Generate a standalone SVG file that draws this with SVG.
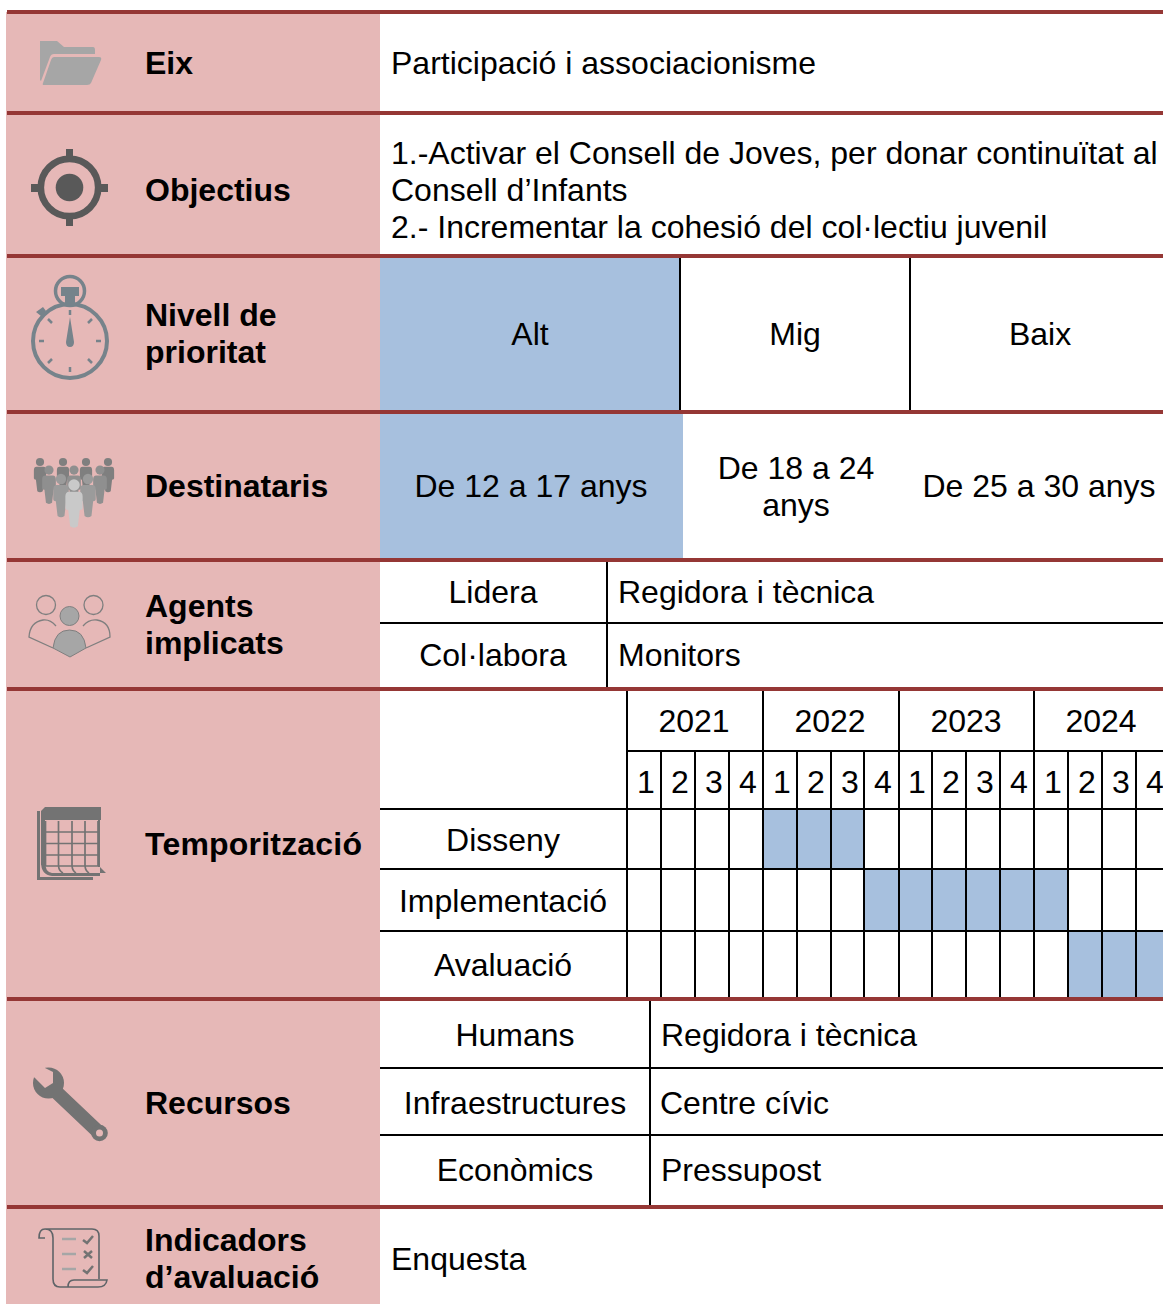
<svg xmlns="http://www.w3.org/2000/svg" width="1163" height="1304" viewBox="0 0 1163 1304">
<defs>
<style>
text{font-family:"Liberation Sans",Arial,sans-serif;font-size:32px;fill:#000}
.b{font-weight:700}
.m{text-anchor:middle}
.g{stroke:#000;stroke-width:2;fill:none}
.r{fill:#953735}
.blue{fill:#A7C0DE}
.tk{stroke:#76838B;stroke-width:2.5;fill:none}
.sc{stroke:#5F6468;stroke-width:1.6;fill:none}
</style>
<g id="person"><circle cx="0" cy="-17" r="6"/><path d="M-5-10H5Q9-10 9-5V7Q9 9 6 9L4 26Q0 29-4 26L-6 9Q-9 9-9 7V-5Q-9-10-5-10Z"/></g>
</defs>
<rect width="1163" height="1304" fill="#fff"/>
<rect x="6" y="12" width="374" height="1292" fill="#E6B8B7"/>
<g id="fills">
<rect class="blue" x="380" y="258" width="300" height="153"/>
<rect class="blue" x="380" y="414" width="303" height="145"/>
<rect class="blue" x="763" y="810" width="101" height="60"/>
<rect class="blue" x="864" y="869" width="204" height="63"/>
<rect class="blue" x="1068" y="932" width="95" height="66"/>
</g>
<g id="connectors">
<path class="g" d="M680 258V411M910 258V411M380 623H1163M607 562V688M627 690V998M627 751H1163M380 809H1163M380 869H1163M380 931H1163M763 690V998M899 690V998M1034 690V998"/>
<path class="g" d="M661 751V998M695 751V998M729 751V998M797 751V998M831 751V998M864 751V998M932 751V998M966 751V998M1000 751V998M1068 751V998M1102 751V998M1136 751V998"/>
<path class="g" d="M650 1001V1205M380 1068H1163M380 1135H1163"/>
</g>
<g id="rules" class="r">
<rect x="7" y="10" width="1156" height="4"/><rect x="7" y="111" width="1156" height="4"/><rect x="7" y="254" width="1156" height="4"/><rect x="7" y="410" width="1156" height="4"/><rect x="7" y="558" width="1156" height="4"/><rect x="7" y="687" width="1156" height="4"/><rect x="7" y="997" width="1156" height="4"/><rect x="7" y="1205" width="1156" height="4"/>
</g>
<g id="eix"><path fill="#A6A6A6" d="M40 41H57L64 47H93Q95 47 95 50V54H54Q51 54 50 57L41 81L40 80Z"/><path fill="#A6A6A6" d="M54 57H99Q102 57 101 60L91 83Q90 85 87 85H44Q42 85 43 83L51 60Q52 57 54 57Z"/><text class="b" x="145" y="74">Eix</text><text x="391" y="74">Participació i associacionisme</text></g>
<g id="objectius"><circle cx="69.500" cy="187.500" r="28.700" fill="none" stroke="#595959" stroke-width="6.700"/><circle cx="69.500" cy="187.500" r="13.800" fill="#595959"/><path fill="#595959" d="M66 149H73V158H66ZM66 217H73V226H66ZM31 184H40V192H31ZM99 184H108V192H99Z"/><text class="b" x="145" y="201">Objectius</text><text x="391" y="164">1.-Activar el Consell de Joves, per donar continuïtat al</text><text x="391" y="201">Consell d’Infants</text><text x="391" y="238">2.- Incrementar la cohesió del col·lectiu juvenil</text></g>
<g id="prioritat"><circle cx="70" cy="341" r="37" fill="none" stroke="#76838B" stroke-width="4"/><circle cx="70" cy="291" r="14.500" fill="none" stroke="#76838B" stroke-width="3.500"/><path fill="#76838B" d="M61 287H79V296H75V304H65V296H61ZM36 312L43 307L46 311L41 316ZM70 317L74 342Q74 347 70 347Q66 347 66 342Z"/><path class="tk" d="M70 310V315M70 367V372M39 341H44M96 341H101M48 319L52 323M92 319L88 323M48 363L52 359M92 363L88 359"/><text class="b" x="145" y="326">Nivell de</text><text class="b" x="145" y="363">prioritat</text><text class="m" x="530" y="345">Alt</text><text class="m" x="795" y="345">Mig</text><text class="m" x="1040" y="345">Baix</text></g>
<g id="destinataris"><g fill="#7F7F7F"><use href="#person" transform="translate(40 473.600) scale(.68)"/><use href="#person" transform="translate(63 473.600) scale(.68)"/><use href="#person" transform="translate(86 473.600) scale(.68)"/><use href="#person" transform="translate(108 473.600) scale(.68)"/></g><g fill="#8F8F8F"><use href="#person" transform="translate(49 483) scale(.76)"/><use href="#person" transform="translate(100 483) scale(.76)"/><use href="#person" transform="translate(74 483) scale(.76)"/></g><g fill="#9B9B9B"><use href="#person" transform="translate(61 493.600) scale(.86)"/><use href="#person" transform="translate(88 493.600) scale(.86)"/></g><use href="#person" fill="#C9C9C9" transform="translate(74 501.300) scale(.96)"/><text class="b" x="145" y="497">Destinataris</text><text class="m" x="531" y="497">De 12 a 17 anys</text><text class="m" x="796" y="479">De 18 a 24</text><text class="m" x="796" y="516">anys</text><text class="m" x="1039" y="497">De 25 a 30 anys</text></g>
<g id="agents"><g fill="none" stroke="#7F7F7F" stroke-width="1.300"><circle cx="46" cy="605" r="9.500"/><circle cx="93.500" cy="605" r="9.500"/><path d="M56 626Q50 619 43 620Q30 622 29 637L53 648M83 626Q89 619 97 620Q110 622 110 637L86 648"/></g><circle cx="69.500" cy="616" r="9.500" fill="#A6A6A6" stroke="#7F7F7F"/><path fill="#A6A6A6" stroke="#7F7F7F" d="M53 648Q55 630 69.500 630Q84 630 86 648L70 657Z"/><text class="b" x="145" y="617">Agents</text><text class="b" x="145" y="654">implicats</text><text class="m" x="493" y="603">Lidera</text><text x="618" y="603">Regidora i tècnica</text><text class="m" x="493" y="666">Col·labora</text><text x="618" y="666">Monitors</text></g>
<g id="temporitzacio"><g fill="#737373"><rect x="37" y="811" width="3" height="69"/><rect x="37" y="877" width="56" height="3"/><path d="M41 811L45 807H101V820H41Z"/><rect x="41" y="811" width="4" height="54"/><path d="M41 862H45Q45 872 52 873H106L100 867H98V820H100V876H52Q41 875 41 862Z"/></g><path fill="none" stroke="#737373" stroke-width="1.700" d="M45.500 821V866M58.500 821V866Q59 871 63 873M72 821V866Q72.500 871 76 873M85 821V866Q85.500 871 89 873M98 821V866M45 832H98M45 843.500H98M45 855H98M45 866H98"/><text class="b" x="145" y="855" textLength="217" lengthAdjust="spacing">Temporització</text><text class="m" x="503" y="851">Disseny</text><text class="m" x="503" y="912">Implementació</text><text class="m" x="503" y="976">Avaluació</text>
<text class="m" x="694" y="732">2021</text><text class="m" x="830" y="732">2022</text><text class="m" x="966" y="732">2023</text><text class="m" x="1101" y="732">2024</text>
<text class="m" x="646" y="793">1</text><text class="m" x="680" y="793">2</text><text class="m" x="714" y="793">3</text><text class="m" x="748" y="793">4</text><text class="m" x="782" y="793">1</text><text class="m" x="816" y="793">2</text><text class="m" x="850" y="793">3</text><text class="m" x="883" y="793">4</text><text class="m" x="917" y="793">1</text><text class="m" x="951" y="793">2</text><text class="m" x="985" y="793">3</text><text class="m" x="1019" y="793">4</text><text class="m" x="1053" y="793">1</text><text class="m" x="1087" y="793">2</text><text class="m" x="1121" y="793">3</text><text class="m" x="1155" y="793">4</text></g>
<g id="recursos"><circle cx="48.500" cy="1083" r="15.500" fill="#737373"/><path d="M52 1088L99.500 1133" stroke="#737373" stroke-width="14" stroke-linecap="round" fill="none"/><circle cx="99.500" cy="1133" r="8.300" fill="#737373"/><path fill="#E6B8B7" d="M28 1060H45V1068L53 1072V1083L45 1088L35 1078L28 1072Z"/><circle cx="99.500" cy="1133" r="3.500" fill="#E6B8B7"/><text class="b" x="145" y="1114">Recursos</text><text class="m" x="515" y="1046">Humans</text><text x="661" y="1046">Regidora i tècnica</text><text class="m" x="515" y="1114">Infraestructures</text><text x="660" y="1114">Centre cívic</text><text class="m" x="515" y="1181">Econòmics</text><text x="661" y="1181">Pressupost</text></g>
<g id="indicadors"><path class="sc" d="M45 1238H39Q39 1229 45 1229H92Q99 1229 99 1236V1279M45 1229Q53 1229 53 1238V1279Q53 1287 60 1287H98Q106 1287 107 1280H74Q68 1280 68 1287"/><path stroke="#A6A6A6" stroke-width="2.500" fill="none" d="M62 1239H76M62 1254H76M62 1269H76"/><path stroke="#737373" stroke-width="2.500" fill="none" d="M83 1240L87 1243L93 1236M84 1251L92 1258M92 1251L84 1258M83 1270L87 1273L93 1266"/><text class="b" x="145" y="1251">Indicadors</text><text class="b" x="145" y="1288">d’avaluació</text><text x="391" y="1270">Enquesta</text></g>
</svg>
